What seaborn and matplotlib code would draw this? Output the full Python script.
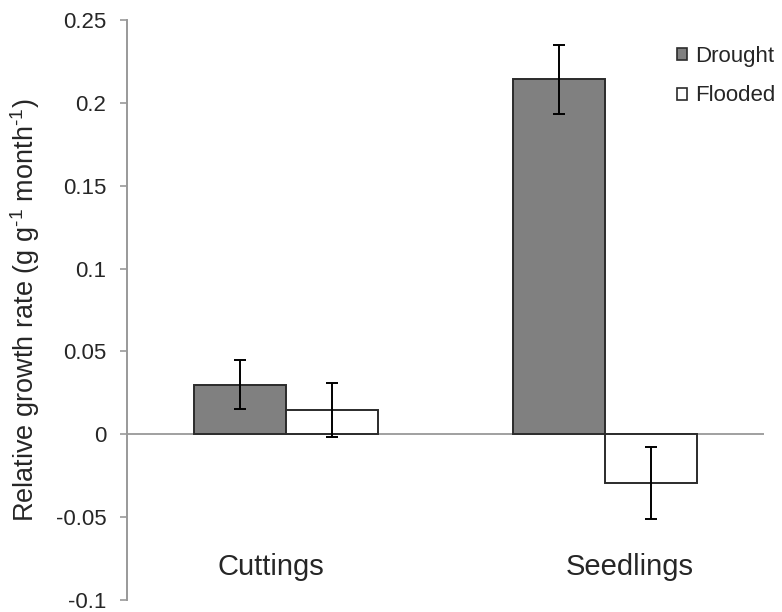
import pandas as pd
import seaborn as sns
import matplotlib.pyplot as plt
from matplotlib.patches import Patch
from matplotlib.transforms import ScaledTranslation

# Dados
stages = ['Cuttings', 'Cuttings', 'Seedlings', 'Seedlings']
treatments = ['Drought', 'Flooded', 'Drought', 'Flooded']
rgr = [0.030, 0.0147, 0.2142, -0.0295]
rgr_err = [0.0147, 0.0165, 0.021, 0.0218]

stage_order = ['Cuttings', 'Seedlings']
treatment_order = ['Drought', 'Flooded']
ytick_values = [-0.1, -0.05, 0, 0.05, 0.1, 0.15, 0.2, 0.25]
ytick_labels = ['-0.1', '-0.05', '0', '0.05', '0.1', '0.15', '0.2', '0.25']

sns.set_style('white')
plt.rcParams['font.family'] = ['Liberation Sans', 'DejaVu Sans']
plt.rcParams['mathtext.fontset'] = 'custom'
plt.rcParams['mathtext.rm'] = 'Liberation Sans'
plt.rcParams['mathtext.it'] = 'Liberation Sans:italic'

df = pd.DataFrame({'stage': stages, 'treatment': treatments,
                   'rgr': rgr, 'err': rgr_err})

fig = plt.figure(figsize=(7.82, 6.12), dpi=100)
ax = fig.add_axes([127 / 782, 12 / 612, 637 / 782, 580 / 612])

palette = {'Drought': '#808080', 'Flooded': 'white'}
sns.barplot(data=df, x='stage', y='rgr', hue='treatment', order=stage_order,
            hue_order=treatment_order, palette=palette, edgecolor='#2b2b2b',
            linewidth=1.4, width=0.578, errorbar=None, legend=False, ax=ax)

# Barras de erro nas posições das barras
for container, trt in zip(ax.containers, treatment_order):
    sub = df[df['treatment'] == trt].set_index('stage').loc[stage_order]
    xs = [p.get_x() + p.get_width() / 2 for p in container.patches]
    ax.errorbar(xs, sub['rgr'], yerr=sub['err'], fmt='none', ecolor='black',
                elinewidth=1.4, capsize=4.3, capthick=1.4, zorder=5)

ax.axhline(0, color='#a0a0a0', lw=1.4, zorder=0)
ax.set_xlim(-0.5, 1.5)
ax.set_ylim(-0.1, 0.25)
ax.set_yticks(ytick_values)
ax.set_yticklabels(ytick_labels, fontsize=16)
ax.tick_params(axis='y', direction='out', length=5, width=1.2,
               color='#999999', pad=10, left=True)
ax.tick_params(axis='x', length=0, pad=-34, labelsize=21)
ax.set_xlabel('')
ax.set_ylabel(r'Relative growth rate (g g$^{\text{-}1}$ month$^{\text{-}1}$)', fontsize=19.5)
ax.yaxis.set_label_coords(-0.133, 0.5)

# rótulos das categorias um pouco deslocados como no original
for lab, dx in zip(ax.get_xticklabels(), [-15, 25]):
    lab.set_transform(lab.get_transform() + ScaledTranslation(dx / 100, 0, fig.dpi_scale_trans))

for side in ['top', 'right', 'bottom']:
    ax.spines[side].set_visible(False)
ax.spines['left'].set_color('#999999')
ax.spines['left'].set_linewidth(1.4)

handles = [Patch(facecolor=palette[t], edgecolor='#2b2b2b', linewidth=1.2)
           for t in treatment_order]
ax.legend(handles, treatment_order, loc='center left',
          bbox_to_anchor=(677 / 782, 1 - 76 / 612), bbox_transform=fig.transFigure,
          frameon=False, fontsize=16, handlelength=0.45, handleheight=0.45,
          handletextpad=0.36, labelspacing=0.85, borderpad=0, borderaxespad=0)

plt.savefig('out.png', dpi=100)
plt.close()
